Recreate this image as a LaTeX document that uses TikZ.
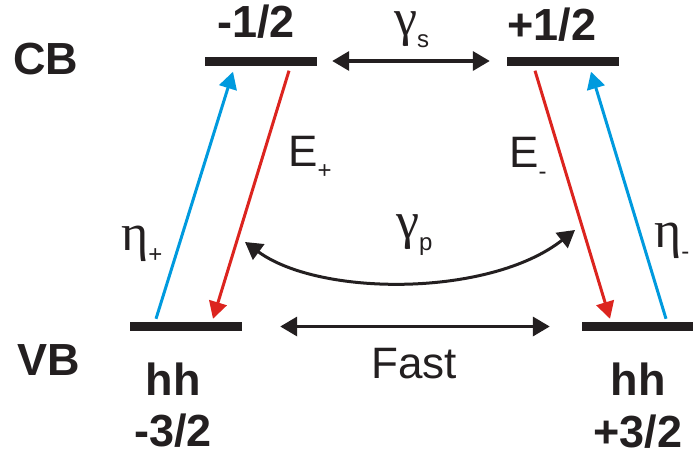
\documentclass[tikz,border=0pt]{standalone}
\usepackage{fontspec}
\setmainfont{Liberation Sans}
\newfontfamily\grkfont{Liberation Serif}
\usetikzlibrary{arrows.meta}
\definecolor{ink}{RGB}{35,31,32}
\definecolor{exred}{RGB}{220,36,31}
\definecolor{exblue}{RGB}{0,154,222}
\newcommand{\sublow}[1]{\raisebox{-12pt}{\fontsize{24}{24}\selectfont #1}}
\newcommand{\grk}[1]{{\grkfont\fontsize{52}{56}\selectfont #1}}

\begin{document}
\begin{tikzpicture}[x=1pt, y=-1pt,
      state/.style={rectangle, fill=ink, minimum width=112pt, minimum height=9pt, inner sep=0pt},
      band/.style={anchor=base, text=ink, inner sep=0pt, font=\fontsize{45}{50}\selectfont\bfseries},
      rate/.style={anchor=base west, inner sep=0pt, text=ink, font=\fontsize{44}{48}\selectfont},
      dblarrow/.style={ink, line width=3.5pt, {Triangle[length=17pt,width=19pt]}-{Triangle[length=17pt,width=19pt]}},
      pump/.style={exblue, line width=3pt, -{Triangle[length=17pt,width=18pt]}},
      emit/.style={exred, line width=3pt, -{Triangle[length=17pt,width=18pt]}}]
    \useasboundingbox (0,0) rectangle (693,456);
    \foreach \n/\x/\y in {cbm/261/61, cbp/563/61, vbm/186/326.5, vbp/638/326.5}
      \node[state] (\n) at (\x,\y) {};
    \node[band] (cb) at (46,74) {CB};
    \node[band] (vb) at (49,375) {VB};
    \node[band] (cbmlab) at (256,37) {-1/2};
    \node[band] (cbplab) at (552,40) {+1/2};
    \node[band] (vbmhh) at (173,395) {hh};
    \node[band] (vbmlab) at (173,446) {-3/2};
    \node[band] (vbphh) at (638,395) {hh};
    \node[band] (vbplab) at (638,447) {+3/2};
    \node[rate, anchor=base] (fast) at (414,378) {Fast};
    \node[rate] (gs) at (394,35) {\grk{γ}\sublow{s}};
    \node[rate] (gp) at (396,238) {\grk{γ}\sublow{p}};
    \node[rate] (ep) at (288,166) {E\sublow{+}};
    \node[rate] (em) at (509,167) {E\sublow{-}};
    \node[rate] (np) at (121,250) {\grk{η}\sublow{+}};
    \node[rate] (nm) at (654,247) {\grk{η}\sublow{-}};
    \draw[dblarrow] ([xshift=15pt]cbm.east) -- ([xshift=-17pt]cbp.west);
    \draw[dblarrow] ([xshift=38pt]vbm.east) -- ([xshift=-32pt]vbp.west);
    \draw[pump] ([xshift=-30pt,yshift=3pt]vbm.north) -- ([xshift=-28pt,yshift=-6pt]cbm.south);
    \draw[emit] ([xshift=28pt,yshift=-5pt]cbm.south) -- ([xshift=27pt,yshift=3pt]vbm.north);
    \draw[emit] ([xshift=-28pt,yshift=-5pt]cbp.south) -- ([xshift=-28pt,yshift=3pt]vbp.north);
    \draw[pump] ([xshift=28pt,yshift=3pt]vbp.north) -- ([xshift=28pt,yshift=-6pt]cbp.south);
    \coordinate (gpl) at (245,242);
    \coordinate (gpr) at (575,230);
    \draw[dblarrow, line width=3pt] (gpl) .. controls (320,297) and (490,297) .. (gpr);
\end{tikzpicture}
\end{document}
